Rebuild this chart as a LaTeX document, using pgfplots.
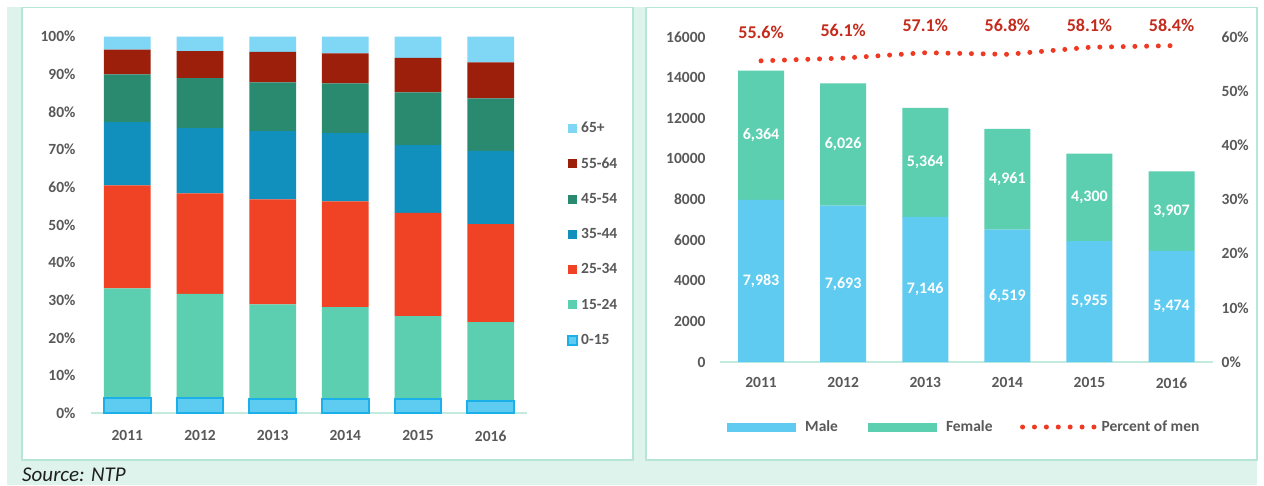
\documentclass[border=0pt]{standalone}
\usepackage{fontspec}
\setmainfont{Carlito}
\usepackage{pgfplots}
\pgfplotsset{compat=1.18}
\usepackage{pgfplotstable}

\definecolor{mintbg}{HTML}{DDF3EC}
\definecolor{panelborder}{HTML}{B5E6D6}
\definecolor{axisline}{HTML}{C2EADF}
\definecolor{textgray}{HTML}{595959}
\definecolor{cA}{HTML}{5ECBF1}
\definecolor{cAb}{HTML}{1BB0EA}
\definecolor{cB}{HTML}{5DCFB1}
\definecolor{cC}{HTML}{F04225}
\definecolor{cD}{HTML}{118FBD}
\definecolor{cE}{HTML}{2A8A6F}
\definecolor{cF}{HTML}{9B1F0A}
\definecolor{cG}{HTML}{7FD6F5}
\definecolor{male}{HTML}{5FCBF1}
\definecolor{female}{HTML}{5BCFB0}
\definecolor{dotred}{HTML}{EE3A22}
\definecolor{pctred}{HTML}{C42B1C}

\pgfplotstableread{
x a b c d e f g
0 4.1 29.1 27.3 16.8 12.7 6.6 3.4
1 4.1 27.6 26.7 17.3 13.3 7.2 3.8
2 3.8 25.1 27.9 18.1 13.0 8.1 4.0
3 3.7 24.5 28.1 18.1 13.2 8.0 4.4
4 3.8 22.0 27.4 18.0 14.0 9.2 5.6
5 3.3 20.9 26.0 19.5 13.9 9.6 6.8
}\agetable

\pgfplotstableread{
x male female
0 7983 6364
1 7693 6026
2 7146 5364
3 6519 4961
4 5955 4300
5 5474 3907
}\gender

\pgfplotstableread{
x y lab
0 3991.5 7,983
1 3846.5 7,693
2 3573 7,146
3 3259.5 6,519
4 2977.5 5,955
5 2737 5,474
0 11165 6,364
1 10706 6,026
2 9828 5,364
3 9000.5 4,961
4 8105 4,300
5 7427.5 3,907
}\barlabels

\pgfplotstableread{
x pct ly
0 55.6 60.9
1 56.1 61.3
2 57.1 62.1
3 56.8 62.1
4 58.1 62.1
5 58.4 62.1
}\pcttable

\pgfplotsset{
  ticklab/.style={font=\fontsize{15.5}{18}\selectfont\bfseries, text=textgray},
  sqimg/.style={legend image code/.code={\path[##1] (0pt,-4.5pt) rectangle (9pt,4.5pt);}},
  wideimg/.style={legend image code/.code={\path[##1] (0pt,-4.5pt) rectangle (69pt,4.5pt);}},
  dotimg/.style={legend image code/.code={\path[draw=none,fill=none] (0pt,-4.5pt) rectangle (70pt,4.5pt); \draw[##1, overlay] (0pt,0pt) -- (71.5pt,0pt);}},
}

\begin{document}
\begin{tikzpicture}[x=1pt,y=1pt]
\useasboundingbox (0,0) rectangle (1264,485);
\fill[white] (0,0) rectangle (1264,485);
\fill[mintbg] (7,0) rectangle (1257,478);
\filldraw[fill=white,draw=panelborder,line width=1.5pt] (22,25) rectangle (633,477.5);
\filldraw[fill=white,draw=panelborder,line width=1.5pt] (646,25) rectangle (1257,477.5);
\node[anchor=base west, font=\fontsize{21}{25}\selectfont\itshape, text=black!88, inner sep=0pt] at (22,4) {Source: NTP};

% ---------- left chart ----------
\begin{axis}[
  at={(91pt,71.7pt)}, anchor=south west,
  scale only axis, width=436pt, height=376.6pt,
  ybar stacked, bar width=46.7pt,
  xmin=-0.5, xmax=5.5, ymin=0, ymax=100,
  xtick={0,...,5}, xticklabels={2011,2012,2013,2014,2015,2016},
  ytick={0,10,...,100},
  yticklabel={\pgfmathprintnumber{\tick}\%},
  /pgf/number format/assume math mode=true,
  axis x line*=bottom, axis y line*=left,
  x axis line style={draw=axisline, line width=2pt, -},
  y axis line style={draw=none},
  major tick length=0pt,
  tick label style={ticklab},
  xticklabel style={yshift=-14pt},
  yticklabel style={xshift=-12pt},
  clip=false,
  reverse legend,
  legend cell align=left,
  legend style={draw=none, fill=none, at={(1.0917,0.476)}, anchor=west,
    inner sep=0pt, row sep=19.6pt, font=\fontsize{15.5}{18}\selectfont\bfseries, text=textgray,
    /tikz/every odd column/.append style={column sep=1pt}},
]
\addplot[fill=cA, draw=cAb, line width=2pt, sqimg] table[x=x,y=a]{\agetable};
\addlegendentry{0-15}
\addplot[fill=cB, draw=none, sqimg] table[x=x,y=b]{\agetable};
\addlegendentry{15-24}
\addplot[fill=cC, draw=none, sqimg] table[x=x,y=c]{\agetable};
\addlegendentry{25-34}
\addplot[fill=cD, draw=none, sqimg] table[x=x,y=d]{\agetable};
\addlegendentry{35-44}
\addplot[fill=cE, draw=none, sqimg] table[x=x,y=e]{\agetable};
\addlegendentry{45-54}
\addplot[fill=cF, draw=none, sqimg] table[x=x,y=f]{\agetable};
\addlegendentry{55-64}
\addplot[fill=cG, draw=none, sqimg] table[x=x,y=g]{\agetable};
\addlegendentry{65+}
\end{axis}

% ---------- right chart: bars ----------
\begin{axis}[
  at={(720pt,123pt)}, anchor=south west,
  scale only axis, width=492.6pt, height=325pt,
  ybar stacked, bar width=46pt,
  xmin=-0.5, xmax=5.5, ymin=0, ymax=16000,
  xtick={0,...,5}, xticklabels={2011,2012,2013,2014,2015,2016},
  ytick={0,2000,...,16000},
  scaled y ticks=false,
  /pgf/number format/assume math mode=true,
  /pgf/number format/1000 sep={},
  axis x line*=bottom, axis y line*=left,
  x axis line style={draw=axisline, line width=2pt, -},
  y axis line style={draw=none},
  major tick length=0pt,
  tick label style={ticklab},
  xticklabel style={yshift=-12pt},
  yticklabel style={xshift=-11pt},
  clip=false,
  legend columns=3,
  legend style={draw=none, fill=none, at={(0.0142,-0.2)}, anchor=west,
    inner sep=0pt, font=\fontsize{15.5}{18}\selectfont\bfseries, text=textgray,
    /tikz/every odd column/.append style={column sep=7pt},
    /tikz/every even column/.append style={column sep=28pt}},
]
\addplot[fill=male, draw=none, wideimg] table[x=x,y=male]{\gender};
\addlegendentry{Male}
\addplot[fill=female, draw=none, wideimg] table[x=x,y=female]{\gender};
\addlegendentry{Female}
\addlegendimage{draw=dotred, line width=5pt, line cap=round, dash pattern=on 0pt off 11.9pt, dotimg}
\addlegendentry{Percent of men}
\end{axis}

% ---------- right chart: bar value labels ----------
\begin{axis}[
  at={(720pt,123pt)}, anchor=south west,
  scale only axis, width=492.6pt, height=325pt,
  xmin=-0.5, xmax=5.5, ymin=0, ymax=16000,
  hide axis, clip=false,
]
\addplot[only marks, mark=*, mark size=0pt, mark options={draw=none,fill=none},
  nodes near coords, point meta=explicit symbolic,
  nodes near coords style={anchor=center, text=white, font=\fontsize{16}{18}\selectfont\bfseries}]
  table[x=x,y=y,meta=lab]{\barlabels};
\end{axis}

% ---------- right chart: percent of men ----------
\begin{axis}[
  at={(720pt,123pt)}, anchor=south west,
  scale only axis, width=492.6pt, height=325pt,
  xmin=-0.5, xmax=5.5, ymin=0, ymax=60,
  ytick={0,10,...,60},
  yticklabel={\pgfmathprintnumber{\tick}\%},
  /pgf/number format/assume math mode=true,
  axis y line*=right, axis x line=none,
  y axis line style={draw=none},
  major tick length=0pt,
  tick label style={ticklab},
  yticklabel style={xshift=5.5pt},
  clip=false,
]
\addplot[draw=dotred, line width=5pt, line cap=round, dash pattern=on 0pt off 11.7pt, mark=none]
  table[x=x,y=pct]{\pcttable};
\addplot[only marks, mark=*, mark size=0pt, mark options={draw=none,fill=none},
  point meta=\thisrow{pct},
  nodes near coords={\pgfmathprintnumber[fixed,precision=1,fixed zerofill]{\pgfplotspointmeta}\%},
  nodes near coords style={anchor=center, text=pctred, font=\fontsize{18}{20}\selectfont\bfseries}]
  table[x=x,y=ly]{\pcttable};
\end{axis}
\end{tikzpicture}
\end{document}
